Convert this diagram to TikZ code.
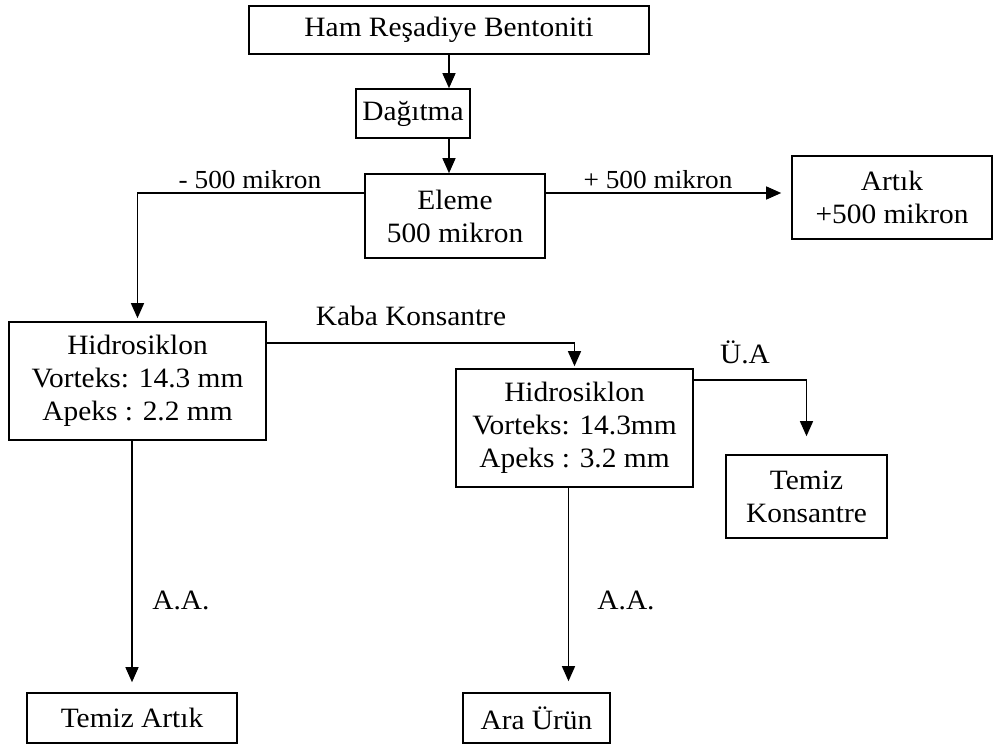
\documentclass[tikz,border=0pt]{standalone}
\usepackage{fontspec}
\setmainfont[FakeStretch=1.05]{Liberation Serif}
\usetikzlibrary{arrows.meta,calc}

\begin{document}
\begin{tikzpicture} [ % kutu ve ok stilleri
    x=1pt, y=-1pt, >={Triangle[width=13pt,length=15pt]},
    font=\fontsize{28}{33}\selectfont,
    box/.style = {shape = rectangle, draw, line width=1.6pt, inner sep=0pt, align = center},
    flow/.style = {line width=1.3pt, ->},
    lbl/.style = {shape = rectangle, inner sep=0pt, align = center},
    small/.style = {font = \fontsize{26}{30}\selectfont}
]

\useasboundingbox (0,0) rectangle (993,744);

% ust kutular
\node [box, minimum width=400pt, minimum height=48pt] (ham) at (449,30){Ham Reşadiye Bentoniti};
\node [box, minimum width=114pt, minimum height=49pt] (dag) at (413,113.5){Dağıtma};
\node [box, minimum width=180pt, minimum height=84pt] (ele) at (455,216){Eleme\\500 mikron};
\node [box, minimum width=200pt, minimum height=83pt] (art) at (892,197.5){Artık\\+500 mikron};

% hidrosiklonlar
\node [box, minimum width=257pt, minimum height=118pt] (hid1) at (137.5,381){Hidrosiklon\\Vorteks: 14.3 mm\\Apeks : 2.2 mm};
\node [box, minimum width=237pt, minimum height=118pt] (hid2) at (574.5,428){Hidrosiklon\\Vorteks: 14.3mm\\Apeks : 3.2 mm};

% urunler
\node [box, minimum width=161pt, minimum height=83pt] (tkon) at (806.5,496.5){Temiz\\Konsantre};
\node [box, minimum width=210pt, minimum height=50pt] (tart) at (132,718){Temiz Artık};
\node [box, minimum width=147pt, minimum height=50pt] (ara) at (536.5,718){Ara Ürün};

% etiketler
\node [lbl, small] (eksi) at (250,180){- 500 mikron};
\node [lbl, small] (arti) at (658,180){+ 500 mikron};
\node [lbl] (kaba) at (411,316){Kaba Konsantre};
\node [lbl] (ua) at (745,352){Ü.A};
\node [lbl] (aa1) at (181,600){A.A.};
\node [lbl] (aa2) at (626,600){A.A.};

% oklar
\draw [flow] (ham.south) -- (ham.south |- dag.north);
\draw [flow] (ham.south |- dag.south) -- (ham.south |- ele.north);

\draw [flow, shorten >=3pt] ([yshift=23pt]ele.west) -| (hid1.north);
\draw [flow, shorten >=10pt] ([yshift=23pt]ele.east) -- ([yshift=23pt]ele.east -| art.west);

\draw [flow, shorten >=2pt] ([yshift=38pt]hid1.east) -| (hid2.north);
\draw [flow, shorten >=18pt] ([yshift=48pt]hid2.east) -| (tkon.north);

\draw [flow, shorten >=10pt] (tart.north |- hid1.south) -- (tart.north);
\draw [flow, shorten >=11pt] ([xshift=-6pt]hid2.south) -- ([xshift=-6pt]hid2.south |- ara.north);

\end{tikzpicture}
\end{document}
